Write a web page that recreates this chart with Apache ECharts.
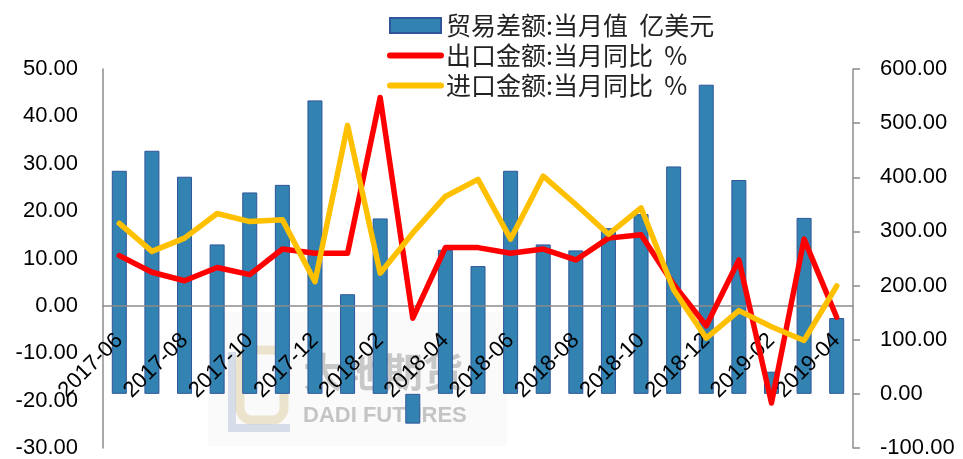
<!DOCTYPE html>
<html>
<head>
<meta charset="utf-8">
<script src="https://cdn.jsdelivr.net/npm/echarts@6/dist/echarts.min.js"></script>
<style>
  html, body { margin: 0; padding: 0; background: #fff; }
  #main { width: 963px; height: 459px; }
</style>
</head>
<body>
<div id="main"></div>
<script>
// months on the category axis
const months = [
  '2017-06', '2017-07', '2017-08', '2017-09', '2017-10', '2017-11', '2017-12',
  '2018-01', '2018-02', '2018-03', '2018-04', '2018-05', '2018-06', '2018-07',
  '2018-08', '2018-09', '2018-10', '2018-11', '2018-12',
  '2019-01', '2019-02', '2019-03', '2019-04'
];
// trade balance, 亿美元 (right axis)
const tradeBalance = [412, 449, 401, 276, 372, 386, 542, 184, 324, -55, 266, 236,
  412, 276, 265, 306, 332, 420, 571, 395, 41, 325, 140];
// export yoy % (left axis)
const exportYoY = [10.6, 7.1, 5.3, 8.1, 6.6, 12.0, 11.1, 11.1, 44.0, -2.6, 12.3, 12.3,
  11.1, 12.0, 9.7, 14.3, 15.0, 4.5, -4.2, 9.7, -20.5, 14.1, -2.4];
// import yoy % (left axis)
const importYoY = [17.4, 11.5, 14.3, 19.5, 17.8, 18.2, 5.1, 38.1, 6.9, 15.4, 23.1, 26.7,
  14.1, 27.4, 21.4, 15.1, 20.7, 3.4, -6.8, -1.0, -4.4, -7.3, 4.2];

const seriesNames = ['贸易差额:当月值  亿美元', '出口金额:当月同比  %', '进口金额:当月同比  %'];
const leftTicks = {min: -30, max: 50, interval: 10};
const rightTicks = {min: -100, max: 600, interval: 100};

const FONT = 'Liberation Sans';
const CJK = 'Noto Sans CJK SC';

var myChart = echarts.init(document.getElementById('main'));

// legend line icons: hide the symbol dot, keep a thick round-capped line
const lineLegend = (name, color) => ({
  name: name,
  itemStyle: {opacity: 0},
  lineStyle: {color: color, width: 6, cap: 'round'}
});

const option = {
  animation: false,
  backgroundColor: '#fff',
  grid: {left: 103, right: 110, top: 69, bottom: 11, containLabel: false, outerBoundsMode: 'none'},
  legend: {
    orient: 'vertical',
    left: 382,
    top: 8,
    itemWidth: 51,
    itemHeight: 15,
    itemGap: 5,
    textStyle: {fontFamily: CJK, fontSize: 25, color: '#222'},
    data: [
      {name: seriesNames[0], icon: 'rect'},
      lineLegend(seriesNames[1], '#FF0000'),
      lineLegend(seriesNames[2], '#FFC000')
    ]
  },
  // faint company watermark behind the plot
  graphic: {
    elements: [
      {type: 'rect', z: 0, shape: {x: 208, y: 312, width: 299, height: 134},
        style: {fill: 'rgba(240,240,240,0.35)'}},
      {type: 'rect', z: 0, shape: {x: 240, y: 350, width: 44, height: 70, r: 12},
        style: {fill: 'none', stroke: 'rgba(220,200,150,0.45)', lineWidth: 9}},
      {type: 'polyline', z: 0, shape: {points: [[232, 352], [232, 428], [290, 428]]},
        style: {stroke: 'rgba(170,185,210,0.45)', lineWidth: 8}},
      {type: 'text', z: 0, x: 303, y: 352,
        style: {text: '大地期货', font: 'bold 40px "Noto Sans CJK SC"', fill: 'rgba(140,140,140,0.45)'}},
      {type: 'text', z: 0, x: 303, y: 405,
        style: {text: 'DADI FUTURES', font: 'bold 22px "Liberation Sans"', fill: 'rgba(130,130,130,0.45)'}}
    ]
  },
  xAxis: {
    type: 'category',
    data: months,
    boundaryGap: true,
    z: 3,
    axisLine: {onZero: true, onZeroAxisIndex: 0, lineStyle: {color: '#8c8c8c', width: 1.5}},
    axisTick: {show: false},
    splitLine: {show: false},
    // labels sit just under the zero line, not at the grid bottom
    axisLabel: {interval: 1, rotate: 45, margin: -111, fontFamily: FONT, fontSize: 22, color: '#000'}
  },
  yAxis: [
    {
      type: 'value',
      position: 'left',
      min: leftTicks.min, max: leftTicks.max, interval: leftTicks.interval,
      splitLine: {show: false},
      axisLine: {show: true, lineStyle: {color: '#8c8c8c', width: 1.5}},
      axisTick: {show: false},
      axisLabel: {margin: 25, fontFamily: FONT, fontSize: 22, color: '#000',
        formatter: v => v.toFixed(2)}
    },
    {
      type: 'value',
      position: 'right',
      min: rightTicks.min, max: rightTicks.max, interval: rightTicks.interval,
      splitLine: {show: false},
      axisLine: {show: true, lineStyle: {color: '#8c8c8c', width: 1.5}},
      axisTick: {show: true, length: 7, lineStyle: {color: '#8c8c8c', width: 1.5}},
      axisLabel: {margin: 27, fontFamily: FONT, fontSize: 22, color: '#000',
        formatter: v => v.toFixed(2)}
    }
  ],
  series: [
    {
      name: seriesNames[0],
      type: 'bar',
      yAxisIndex: 1,
      barWidth: 15,
      z: 2,
      itemStyle: {color: '#3283B1', borderColor: '#2F559A', borderWidth: 1},
      data: tradeBalance
    },
    {
      name: seriesNames[1],
      type: 'line',
      yAxisIndex: 0,
      symbol: 'none',
      z: 4,
      itemStyle: {color: '#FF0000'},
      lineStyle: {color: '#FF0000', width: 5.5, cap: 'round', join: 'round'},
      data: exportYoY
    },
    {
      name: seriesNames[2],
      type: 'line',
      yAxisIndex: 0,
      symbol: 'none',
      z: 5,
      itemStyle: {color: '#FFC000'},
      lineStyle: {color: '#FFC000', width: 5.5, cap: 'round', join: 'round'},
      data: importYoY
    }
  ]
};

myChart.setOption(option);
</script>
</body>
</html>
